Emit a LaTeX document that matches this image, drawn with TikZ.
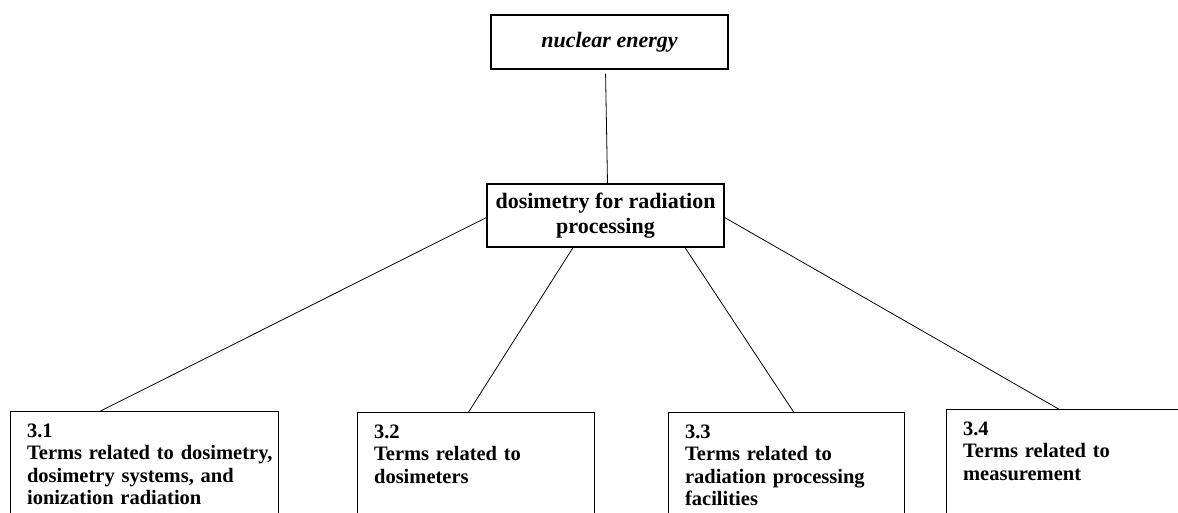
\documentclass[tikz,border=0pt]{standalone}
\usepackage{fontspec}
\setmainfont{Liberation Serif}
\usetikzlibrary{positioning}
\tikzset{
  headbox/.style={draw, line width=1.2pt, minimum width=237pt, align=center,
    font=\bfseries\fontsize{22}{25}\selectfont},
  termbox/.style={draw, line width=1.2pt, anchor=north west, inner xsep=16.5pt,
    inner ysep=12pt, text width=#1, align=left, text depth=100pt,
    font=\bfseries\fontsize{20.5}{22.5}\selectfont},
  link/.style={line width=0.8pt}
}

\begin{document}
\begin{tikzpicture}[x=1pt,y=-1pt]
      \useasboundingbox (0,0) rectangle (1178,513);
      \clip (0,0) rectangle (1178,513);
      % top and middle
      \node[headbox, minimum height=54pt, font=\bfseries\itshape\fontsize{22}{25}\selectfont] (nuclear) at (609.5,42) {nuclear energy};
      \node[headbox, minimum height=63pt] (dosimetry) at (605.5,215.5) {dosimetry for radiation\\processing};
      % the four term groups
      \node[termbox=235pt] (terms1) at (10,411) {3.1\\\mbox{Terms related to dosimetry,}\\dosimetry systems, and\\ionization radiation};
      \node[termbox=204pt] (terms2) at (357,412) {3.2\\Terms related to\\dosimeters};
      \node[termbox=203pt] (terms3) at (668,412) {3.3\\Terms related to\\radiation processing\\facilities};
      \node[termbox=207pt] (terms4) at (946,409) {3.4\\Terms related to\\measurement};
      % links
      \draw[link, shorten <=4pt] ([xshift=-4pt]nuclear.south) -- ([xshift=2pt]dosimetry.north);
      \draw[link] ([yshift=-2pt]dosimetry.west) -- ([xshift=-44pt]terms1.north);
      \draw[link] ([xshift=-32.5pt]dosimetry.south) -- ([xshift=-7.5pt]terms2.north);
      \draw[link] ([xshift=79.5pt]dosimetry.south) -- ([xshift=7pt]terms3.north);
      \draw[link] ([yshift=-2pt]dosimetry.east) -- ([xshift=-8pt]terms4.north);
    \end{tikzpicture}
\end{document}
